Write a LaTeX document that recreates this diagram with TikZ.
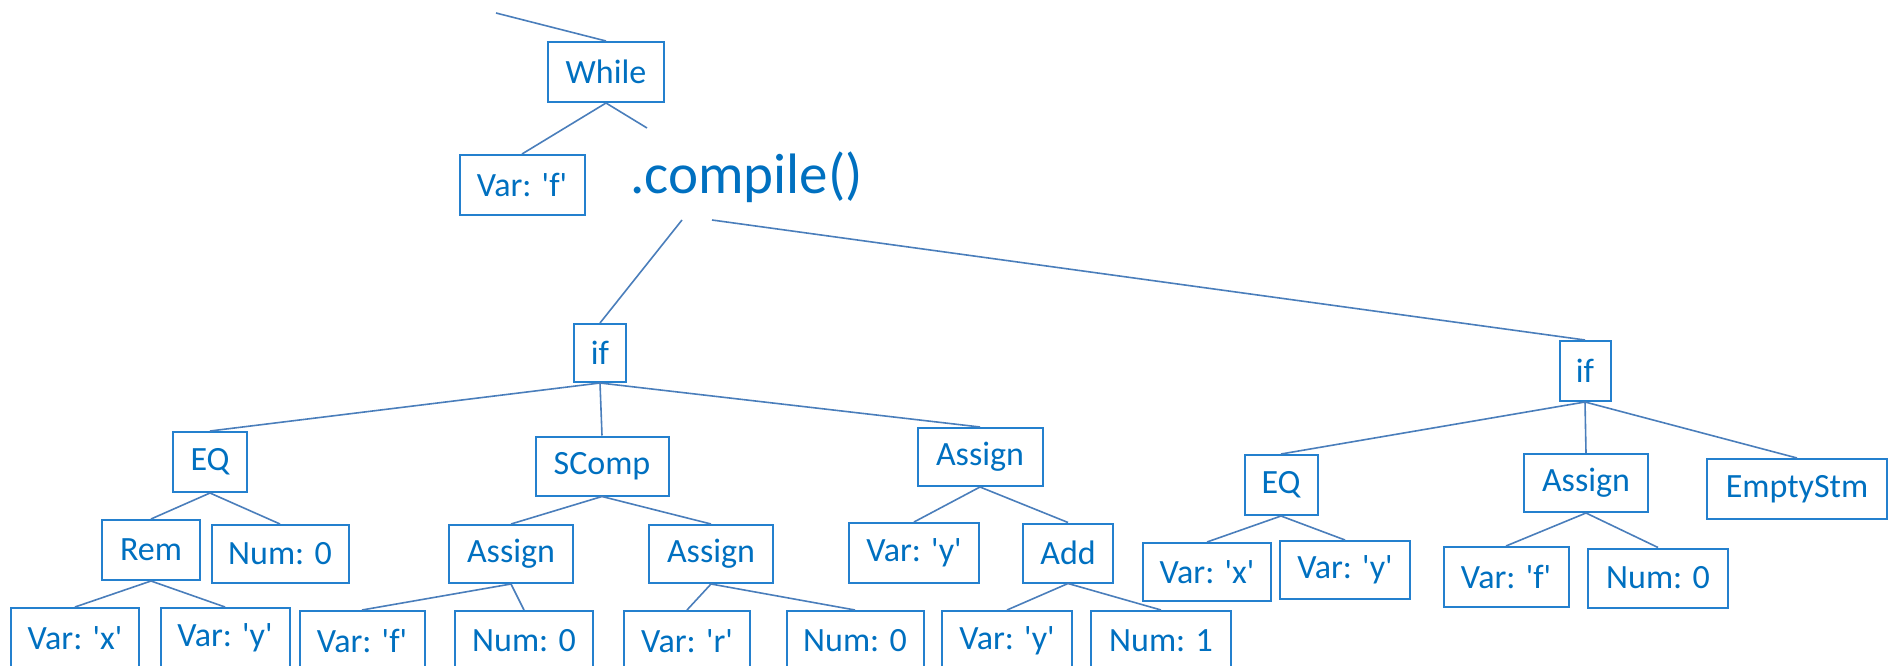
\documentclass[tikz,border=0pt]{standalone}
\usepackage{fontspec}
\setmainfont{Carlito}
\definecolor{boxc}{RGB}{36,128,206}
\definecolor{txtc}{RGB}{0,112,192}
\definecolor{linec}{RGB}{74,126,187}
\tikzset{
  tbox/.style={draw=boxc, line width=2pt, text=txtc, inner sep=0pt, align=center,
    font=\fontsize{34}{40}\selectfont},
  conn/.style={draw=linec, line width=1.6pt},
}
\newcommand{\sq}{\textquotesingle}
\newcommand{\bx}[5]{\node[tbox, minimum width=#3pt, minimum height=#4pt] (#1) at (#2) {#5};}
\begin{document}
\begin{tikzpicture}[x=1pt,y=-1pt]
\useasboundingbox (0,0) rectangle (1889,666);
% nodes
\bx{while}{606,72}{116}{60}{While}
\bx{varfA}{522,185}{125}{60}{Var: \sq f\sq}
\node[text=txtc, anchor=base west, inner sep=0pt, font=\fontsize{57}{68}\selectfont] (compile) at (630,193) {.compile()};
\coordinate (top) at (496,13);
\coordinate (free) at (647,128);
\coordinate (cl) at (682,220);
\coordinate (cr) at (712,220);
\bx{ifA}{600,353}{52}{58}{if}
\bx{ifB}{1585,371}{51}{60}{if}
\bx{eqA}{210,462}{74}{60}{EQ}
\bx{scomp}{602,466}{133}{59}{SComp}
\bx{asgA}{980,457}{125}{58}{Assign}
\bx{rem}{151,550}{98}{60}{Rem}
\bx{numA}{280,554}{137}{58}{Num: 0}
\bx{asgL}{511,554}{124}{58}{Assign}
\bx{asgR}{711,554}{124}{58}{Assign}
\bx{varyA}{914,553}{130}{60}{Var: \sq y\sq}
\bx{add}{1068,553}{90}{59}{Add}
\bx{eqB}{1281,485}{73}{60}{EQ}
\bx{asgB}{1586,483}{124}{58}{Assign}
\bx{empty}{1797,489}{180}{60}{EmptyStm}
\bx{varxB}{1207,572}{128}{58}{Var: \sq x\sq}
\bx{varyB}{1345,570}{130}{58}{Var: \sq y\sq}
\bx{varfB}{1506,577}{125}{60}{Var: \sq f\sq}
\bx{numB}{1658,578}{140}{59}{Num: 0}
\bx{varxC}{75,638}{128}{60}{Var: \sq x\sq}
\bx{varyC}{225,638}{129}{60}{Var: \sq y\sq}
\bx{varfC}{362,641}{125}{60}{Var: \sq f\sq}
\bx{numC}{524,641}{138}{60}{Num: 0}
\bx{varrC}{687,641}{126}{60}{Var: \sq r\sq}
\bx{numD}{855,641}{137}{60}{Num: 0}
\bx{varyD}{1007,641}{130}{60}{Var: \sq y\sq}
\bx{numE}{1161,641}{140}{60}{Num: 1}
% connectors
\draw[conn] (top) -- (while.north);
\draw[conn] (while.south) -- (varfA.north);
\draw[conn] (while.south) -- (free);
\draw[conn] (cl) -- (ifA.north);
\draw[conn] (cr) -- (ifB.north);
\draw[conn] (ifA.south) -- (eqA.north);
\draw[conn] (ifA.south) -- (scomp.north);
\draw[conn] (ifA.south) -- (asgA.north);
\draw[conn] (eqA.south) -- (rem.north);
\draw[conn] (eqA.south) -- (numA.north);
\draw[conn] (rem.south) -- (varxC.north);
\draw[conn] (rem.south) -- (varyC.north);
\draw[conn] (scomp.south) -- (asgL.north);
\draw[conn] (scomp.south) -- (asgR.north);
\draw[conn] (asgL.south) -- (varfC.north);
\draw[conn] (asgL.south) -- (numC.north);
\draw[conn] (asgR.south) -- (varrC.north);
\draw[conn] (asgR.south) -- (numD.north);
\draw[conn] (asgA.south) -- (varyA.north);
\draw[conn] (asgA.south) -- (add.north);
\draw[conn] (add.south) -- (varyD.north);
\draw[conn] (add.south) -- (numE.north);
\draw[conn] (ifB.south) -- (eqB.north);
\draw[conn] (ifB.south) -- (asgB.north);
\draw[conn] (ifB.south) -- (empty.north);
\draw[conn] (eqB.south) -- (varxB.north);
\draw[conn] (eqB.south) -- (varyB.north);
\draw[conn] (asgB.south) -- (varfB.north);
\draw[conn] (asgB.south) -- (numB.north);
\end{tikzpicture}
\end{document}
